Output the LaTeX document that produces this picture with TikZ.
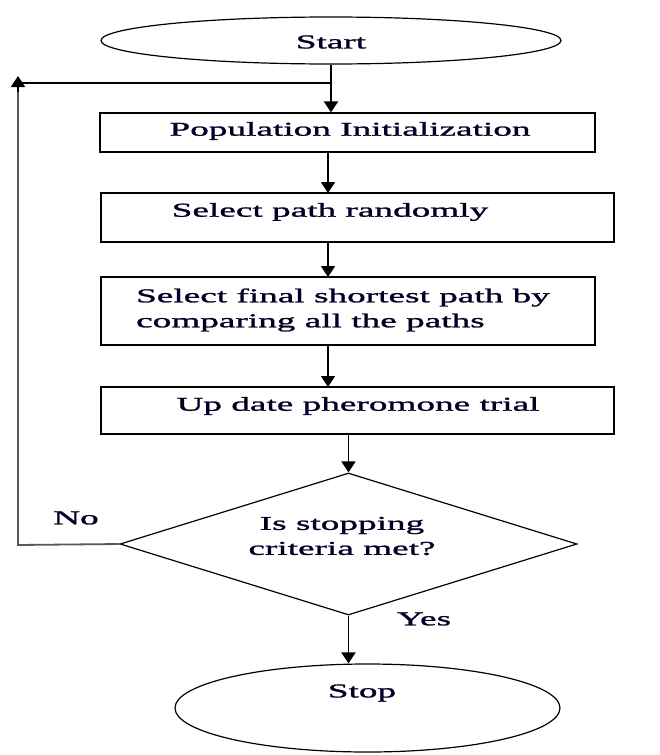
\documentclass[tikz,border=0pt]{standalone}
\usepackage{fontspec}
\setmainfont[FakeStretch=1.9,FakeBold=1.3]{Liberation Serif}
\usetikzlibrary{shapes.geometric,arrows.meta}
\begin{document}
\begin{tikzpicture}[x=1pt,y=-1pt,
  shp/.style={draw=black,line width=1.2pt,inner sep=0pt,fill=white},
  boxs/.style={shp,rectangle},
  txt/.style={inner sep=0pt,font=\fontsize{19.6}{25}\selectfont,text=black!85!blue},
  arr/.style={line width=1.8pt,-{Triangle[width=14pt,length=11pt]}},
  fb/.style={line width=1.8pt,draw=black!65}]
\useasboundingbox (0,0) rectangle (659,755);
% shapes
\node[shp,ellipse,minimum width=460pt,minimum height=47pt] (start) at (331,40.5) {};
\node[boxs,minimum width=495pt,minimum height=39pt] (pop) at (347.5,132.5) {};
\node[boxs,minimum width=513pt,minimum height=49pt] (sel) at (357.5,217.5) {};
\node[boxs,minimum width=494pt,minimum height=68pt] (cmp) at (348,311) {};
\node[boxs,minimum width=513pt,minimum height=47pt] (upd) at (357.5,410.5) {};
\node[shp,diamond,minimum width=457pt,minimum height=142pt] (dia) at (348.5,544) {};
\node[shp,ellipse,minimum width=385pt,minimum height=88pt] (stop) at (367.5,708) {};
% texts
\node[txt] (tstart) at (331,42) {Start};
\node[txt] (tpop) at (350,131) {Population Initialization};
\node[txt] (tsel) at (330,212) {Select path randomly};
\node[txt,align=left] (tcmp) at (343,310) {Select final shortest path by\\comparing all the paths};
\node[txt] (tupd) at (358,406) {Up date pheromone trial};
\node[txt,align=center] (tdia) at (342,536) {Is stopping\\criteria met?};
\node[txt] (tstop) at (362,693) {Stop};
\node[txt] (tno) at (76,518) {No};
\node[txt] (tyes) at (424,619) {Yes};
% connectors
\coordinate (j) at (331,83);
\coordinate (bl) at (18,545);
\coordinate (tl) at (18,76);
\coordinate (tl2) at (18,83);
\draw[fb] (dia.west) -- (bl) -- (tl2);
\draw[line width=1.4pt] (tl2) -- (j);
\draw[arr,draw=black] (18,92) -- (tl);
\draw[arr] (start.south) -- (start.south |- pop.north);
\draw[arr] (328,152) -- (328,193);
\draw[arr] (328,242) -- (328,277);
\draw[arr] (328,345) -- (328,387);
\draw[arr] (upd.south -| dia.north) -- (dia.north);
\draw[arr] (dia.south) -- (dia.south |- stop.north);
\end{tikzpicture}
\end{document}
